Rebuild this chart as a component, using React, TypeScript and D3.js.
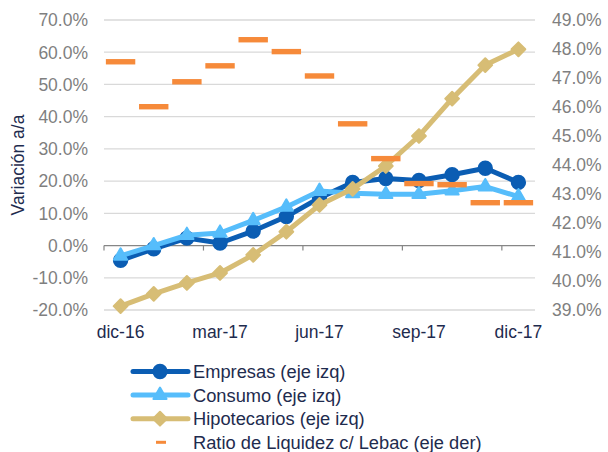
import React from 'react'
import * as d3 from 'd3'

// meses (dic-16 .. dic-17)
const categories = ['dic-16', 'ene-17', 'feb-17', 'mar-17', 'abr-17', 'may-17', 'jun-17', 'jul-17', 'ago-17', 'sep-17', 'oct-17', 'nov-17', 'dic-17']
const xLabels = ['dic-16', 'mar-17', 'jun-17', 'sep-17', 'dic-17']

// variación a/a (eje izq, %)
const empresas = [-4.6, -1.0, 2.3, 0.8, 4.5, 9.0, 14.8, 19.6, 20.8, 20.2, 22.0, 24.0, 19.6]
const consumo = [-3.2, 0.0, 3.2, 3.9, 7.8, 12.0, 16.9, 16.2, 15.9, 15.9, 17.0, 18.3, 15.2]
const hipotecarios = [-18.8, -15.0, -11.6, -8.5, -2.9, 4.3, 12.6, 17.6, 24.7, 34.0, 45.6, 56.0, 60.9]
// ratio de liquidez (eje der, %)
const ratioLiquidez = [47.56, 46.01, 46.87, 47.42, 48.32, 47.91, 47.07, 45.42, 44.22, 43.36, 43.32, 42.7, 42.7]

const leftTicks = [-20, -10, 0, 10, 20, 30, 40, 50, 60, 70]
const rightTicks = [39, 40, 41, 42, 43, 44, 45, 46, 47, 48, 49]

const C_EMP = '#0B5DB3'
const C_CON = '#56BDFB'
const C_HIP = '#D7BD75'
const C_RAT = '#F68A3A'
const NAVY = '#1E2B4E'
const GRAY = '#7F7F7F'
const FONT = 'Liberation Sans, Arial, sans-serif'

export default function App() {
  const x = d3.scaleBand<string>().domain(categories).range([104, 535]).padding(0)
  const cx = (i: number) => (x(categories[i]) as number) + x.bandwidth() / 2
  const yL = d3.scaleLinear().domain([-20, 70]).range([310, 20])
  const yR = d3.scaleLinear().domain([39, 49]).range([310, 20])

  const line = d3.line<number>().x((d, i) => cx(i)).y(d => yL(d))

  const circle = d3.symbol().type(d3.symbolCircle).size(140)()
  const triangle = d3.symbol().type(d3.symbolTriangle).size(75)()
  const diamond = d3.symbol().type(d3.symbolSquare).size(95)()

  const series = [
    { name: 'Empresas (eje izq)', data: empresas, color: C_EMP, marker: circle, rot: 0 },
    { name: 'Consumo (eje izq)', data: consumo, color: C_CON, marker: triangle, rot: 0 },
    { name: 'Hipotecarios (eje izq)', data: hipotecarios, color: C_HIP, marker: diamond, rot: 45 },
  ]

  const legendY = (i: number) => 378 + i * 23.6

  return (
    <svg width={608} height={452} style={{ position: 'fixed', left: 0, top: 0, background: '#fff' }} fontFamily={FONT}>
      {/* gridlines */}
      {leftTicks.filter(t => t !== 0).map(t => (
        <line key={t} x1={104} x2={535} y1={yL(t)} y2={yL(t)} stroke="#D9D9D9" strokeWidth={1.3} />
      ))}
      {/* category axis at 0% */}
      <line x1={104} x2={535} y1={yL(0)} y2={yL(0)} stroke="#868686" strokeWidth={1.2} />
      {xLabels.map(l => {
        const xs = x(l) as number
        return <line key={'t' + l} x1={xs} x2={xs} y1={yL(0)} y2={yL(0) + 5} stroke="#868686" strokeWidth={1.2} />
      })}

      {/* left axis labels */}
      {leftTicks.map(t => (
        <text key={'l' + t} x={88} y={yL(t) + 6.3} textAnchor="end" fontSize={17.5} fill={GRAY}>
          {t.toFixed(1) + '%'}
        </text>
      ))}
      {/* right axis labels */}
      {rightTicks.map(t => (
        <text key={'r' + t} x={552} y={yR(t) + 6.3} fontSize={17.5} fill={GRAY}>
          {t.toFixed(1) + '%'}
        </text>
      ))}
      {/* x labels */}
      {xLabels.map(l => (
        <text key={'x' + l} x={(x(l) as number) + x.bandwidth() / 2} y={338} textAnchor="middle" fontSize={17.5} fill={NAVY}>
          {l}
        </text>
      ))}
      <text transform={`translate(24,${(yL(-20) + yL(70)) / 2}) rotate(-90)`} textAnchor="middle" fontSize={17.5} fill={NAVY}>
        Variación a/a
      </text>

      {/* lines */}
      {series.map(s => (
        <g key={s.name}>
          <path d={line(s.data) as string} fill="none" stroke={s.color} strokeWidth={5} strokeLinejoin="round" />
          {s.data.map((d, i) => (
            <path key={i} d={s.marker as string} transform={`translate(${cx(i)},${yL(d)}) rotate(${s.rot})`}
              fill={s.color} stroke={s.color} strokeWidth={2} strokeLinejoin="round" />
          ))}
        </g>
      ))}

      {/* ratio de liquidez dashes */}
      {ratioLiquidez.map((d, i) => (
        <rect key={'q' + i} x={cx(i) - 14.7} y={yR(d) - 2.7} width={29.4} height={5.4} fill={C_RAT} />
      ))}

      {/* legend */}
      {series.map((s, i) => (
        <g key={'lg' + s.name}>
          <line x1={133} x2={188} y1={legendY(i) - 6.5} y2={legendY(i) - 6.5} stroke={s.color} strokeWidth={5} strokeLinecap="round" />
          <path d={s.marker as string} transform={`translate(160,${legendY(i) - 6.5}) rotate(${s.rot})`}
            fill={s.color} stroke={s.color} strokeWidth={2} strokeLinejoin="round" />
          <text x={193} y={legendY(i)} fontSize={18.3} fill={NAVY}>{s.name}</text>
        </g>
      ))}
      <rect x={156} y={legendY(3) - 8} width={10} height={3} fill={C_RAT} />
      <text x={193} y={legendY(3)} fontSize={18.3} fill={NAVY}>Ratio de Liquidez c/ Lebac (eje der)</text>
    </svg>
  )
}
